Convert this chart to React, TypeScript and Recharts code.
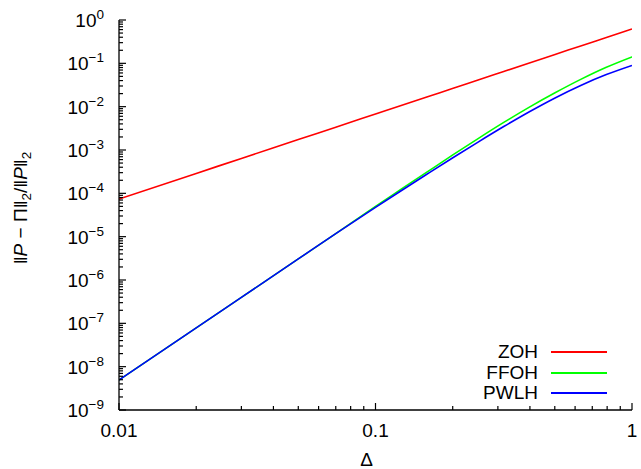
import React from 'react';
import { LineChart, Line, XAxis, YAxis, Legend } from 'recharts';

// Step size Δ (x values)
const deltas = [0.01, 0.02, 0.03, 0.05, 0.07, 0.1, 0.1259, 0.1585, 0.1995, 0.2512, 0.3162, 0.3981, 0.5012, 0.631, 0.7943, 1];
// Relative error values
const zoh = [7.4e-5, 2.88e-4, 6.4e-4, 1.74e-3, 3.37e-3, 6.78e-3, 1.065e-2, 1.67e-2, 2.63e-2, 4.13e-2, 6.49e-2, 0.102, 0.16, 0.252, 0.395, 0.62];
const ffoh = [4.9e-9, 7.84e-8, 3.97e-7, 3.06e-6, 1.18e-5, 5.01e-5, 1.245e-4, 3.08e-4, 7.59e-4, 1.837e-3, 4.33e-3, 9.77e-3, 2.09e-2, 4.26e-2, 8.11e-2, 0.141];
const pwlh = [4.9e-9, 7.84e-8, 3.97e-7, 3.06e-6, 1.18e-5, 4.75e-5, 1.148e-4, 2.75e-4, 6.53e-4, 1.524e-3, 3.475e-3, 7.64e-3, 1.592e-2, 3.09e-2, 5.5e-2, 8.95e-2];

const seriesKeys = ['ZOH', 'FFOH', 'PWLH'];
const seriesColors = ['#ff0000', '#00ff00', '#0000ff'];

const xMajorTicks = [0.01, 0.1, 1];
const xTickLabels = ['0.01', '0.1', '1'];
const yMajorExponents = [0, -1, -2, -3, -4, -5, -6, -7, -8, -9];

const data = deltas.map((d, i) => ({ delta: d, ZOH: zoh[i], FFOH: ffoh[i], PWLH: pwlh[i] }));

const withMinor = (majors: number[]) => {
  const out: number[] = [];
  const sorted = [...majors].sort((a, b) => a - b);
  sorted.forEach((m, i) => {
    out.push(m);
    if (i < sorted.length - 1) for (let k = 2; k <= 9; k++) out.push(m * k);
  });
  return out;
};
const xTicks = withMinor(xMajorTicks);
const yMajors = yMajorExponents.map((e) => Math.pow(10, e));
const yTicks = withMinor(yMajors);

const isMajor = (v: number) => Math.abs(Math.log10(v) - Math.round(Math.log10(v))) < 1e-6;

const FONT = '"Liberation Sans", Arial, Helvetica, sans-serif';
const FS = 19;
const TICK_W = 1.2;

const makeXTick = (side: 'bottom' | 'top') => (props: any) => {
  const { x, y, payload } = props;
  const v = payload.value;
  const major = isMajor(v);
  const len = major ? 7 : 4;
  const dir = side === 'bottom' ? -1 : 1;
  const idx = xMajorTicks.findIndex((t) => Math.abs(t - v) < 1e-9);
  return (
    <g>
      <line x1={x} x2={x} y1={y} y2={y + dir * len} stroke="#000" strokeWidth={TICK_W} />
      {side === 'bottom' && major && idx >= 0 && (
        <text x={x} y={y + 27} textAnchor="middle" fontSize={FS} fontFamily={FONT} fill="#000">
          {xTickLabels[idx]}
        </text>
      )}
    </g>
  );
};

const makeYTick = (side: 'left' | 'right') => (props: any) => {
  const { x, y, payload } = props;
  const v = payload.value;
  const major = isMajor(v);
  const len = major ? 7 : 4;
  const dir = side === 'left' ? 1 : -1;
  const exp = Math.round(Math.log10(v));
  return (
    <g>
      <line x1={x} x2={x + dir * len} y1={y} y2={y} stroke="#000" strokeWidth={TICK_W} />
      {side === 'left' && major && (
        <text x={x - 15} y={y + 7} textAnchor="end" fontSize={FS} fontFamily={FONT} fill="#000">
          <tspan>10</tspan>
          <tspan dy={-8} fontSize={13.5}>{exp === 0 ? '0' : '\u2212' + Math.abs(exp)}</tspan>
        </text>
      )}
    </g>
  );
};

const XLabel = (props: any) => {
  const { viewBox } = props;
  return (
    <text x={viewBox.x + viewBox.width / 2 - 9} y={viewBox.y + 56} textAnchor="middle" fontSize={FS} fontFamily={FONT} fill="#000">
      Δ
    </text>
  );
};

const YLabel = (props: any) => {
  const { viewBox } = props;
  const cx = 27;
  const cy = viewBox.y + viewBox.height / 2 - 7;
  return (
    <text x={cx} y={cy} transform={`rotate(-90, ${cx}, ${cy})`} textAnchor="middle" fontSize={FS} fontFamily={FONT} fill="#000">
      <tspan>‖</tspan>
      <tspan fontStyle="italic">P</tspan>
      <tspan> − Π‖</tspan>
      <tspan dy={4} fontSize={13.5}>2</tspan>
      <tspan dy={-4}>/‖</tspan>
      <tspan fontStyle="italic">P</tspan>
      <tspan>‖</tspan>
      <tspan dy={4} fontSize={13.5}>2</tspan>
    </text>
  );
};

const LegendContent = () => (
  <div style={{ fontFamily: FONT, fontSize: FS, color: '#000' }}>
    {seriesKeys.map((n, i) => (
      <div key={n} style={{ display: 'flex', alignItems: 'center', justifyContent: 'flex-end', height: 20.5 }}>
        <span style={{ lineHeight: '20px' }}>{n}</span>
        <span style={{ display: 'inline-block', width: 56, height: 0, borderTop: `2px solid ${seriesColors[i]}`, marginLeft: 13 }} />
      </div>
    ))}
  </div>
);

const axisLine = { stroke: '#000', strokeWidth: 1.3 };

export default function App() {
  return (
    <div style={{ position: 'absolute', left: 0, top: 0, width: 641, height: 469, background: '#fff' }}>
      <LineChart width={641} height={469} data={data} margin={{ top: 20, right: 9, bottom: 0, left: 0 }}>
        <XAxis
          xAxisId="b"
          dataKey="delta"
          type="number"
          scale="log"
          domain={[0.01, 1]}
          allowDataOverflow
          ticks={xTicks}
          interval={0}
          tickSize={0}
          tickMargin={0}
          tick={makeXTick('bottom')}
          axisLine={axisLine}
          tickLine={false}
          height={59}
          label={<XLabel />}
        />
        <XAxis
          xAxisId="t"
          orientation="top"
          dataKey="delta"
          type="number"
          scale="log"
          domain={[0.01, 1]}
          allowDataOverflow
          ticks={xTicks}
          interval={0}
          tickSize={0}
          tickMargin={0}
          tick={makeXTick('top')}
          axisLine={axisLine}
          tickLine={false}
          height={0}
        />
        <YAxis
          yAxisId="l"
          type="number"
          scale="log"
          domain={[1e-9, 1]}
          allowDataOverflow
          ticks={yTicks}
          interval={0}
          tickSize={0}
          tickMargin={0}
          tick={makeYTick('left')}
          axisLine={axisLine}
          tickLine={false}
          width={119}
          label={<YLabel />}
        />
        <YAxis
          yAxisId="r"
          orientation="right"
          type="number"
          scale="log"
          domain={[1e-9, 1]}
          allowDataOverflow
          ticks={yTicks}
          interval={0}
          tickSize={0}
          tickMargin={0}
          tick={makeYTick('right')}
          axisLine={axisLine}
          tickLine={false}
          width={0}
        />
        {seriesKeys.map((k, i) => (
          <Line
            key={k}
            xAxisId="b"
            yAxisId="l"
            dataKey={k}
            type="monotone"
            stroke={seriesColors[i]}
            strokeWidth={1.6}
            dot={false}
            isAnimationActive={false}
          />
        ))}
        <Legend
          layout="horizontal"
          verticalAlign="middle"
          align="center"
          content={<LegendContent />}
          wrapperStyle={{ left: 407, top: 342, width: 200, height: 62 }}
        />
      </LineChart>
    </div>
  );
}
